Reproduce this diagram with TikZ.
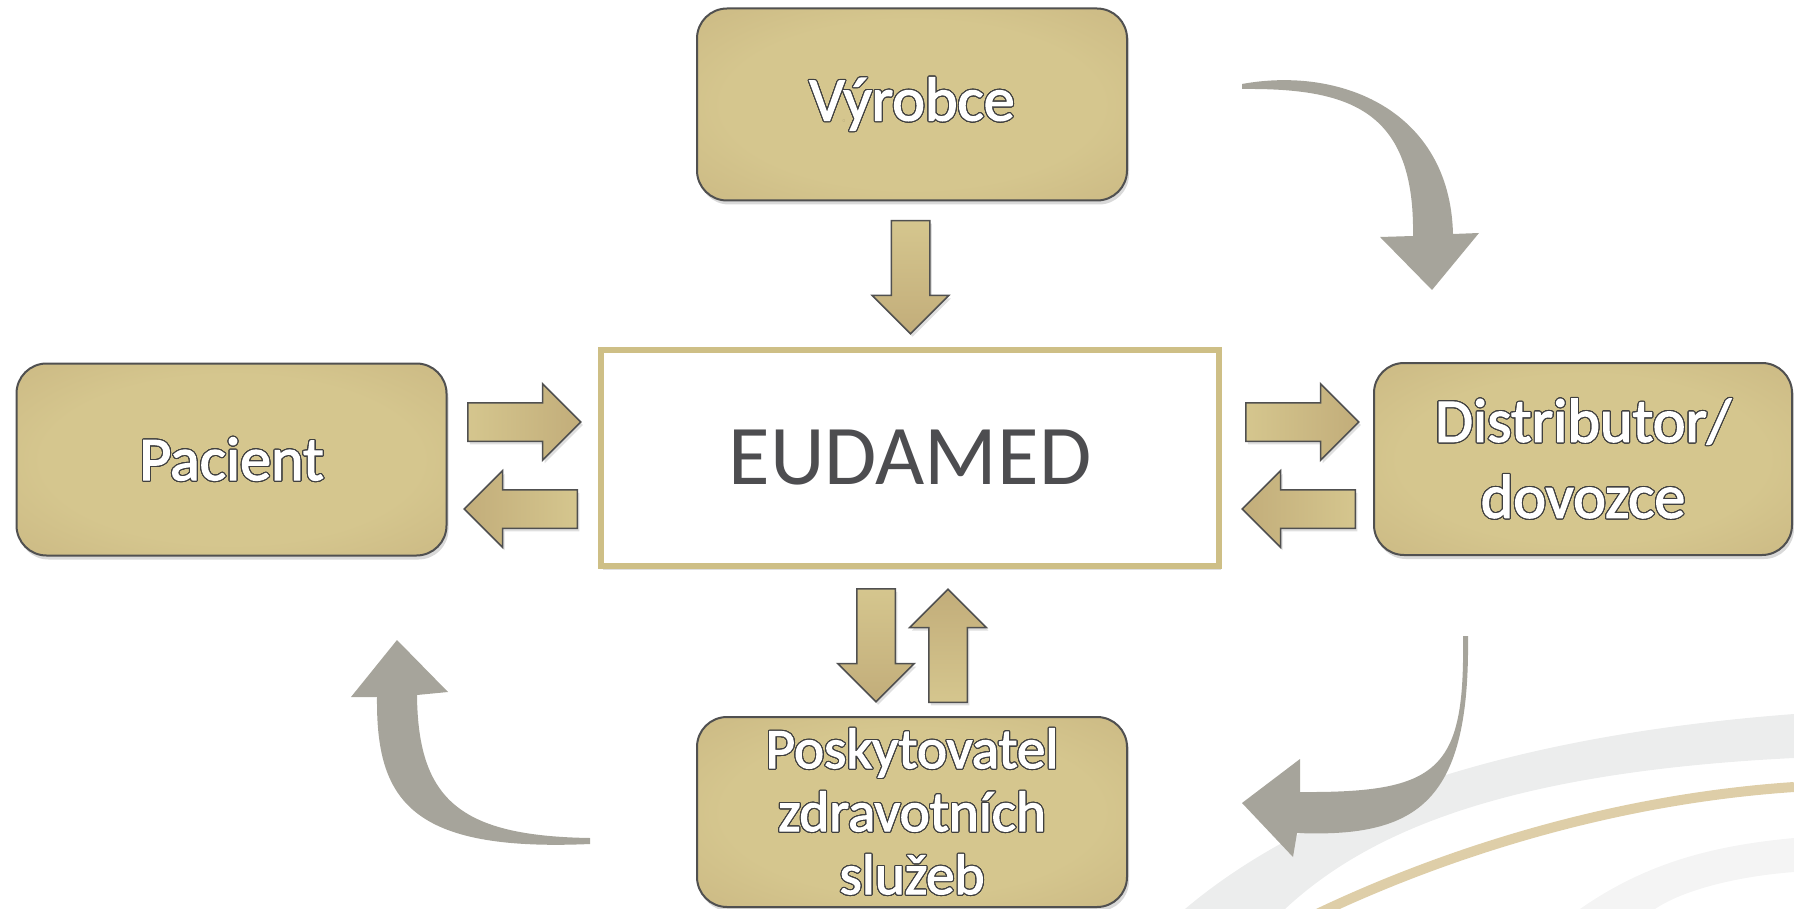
\documentclass[tikz,border=0pt]{standalone}
\usepackage{fontspec}
\setmainfont{Carlito}
\newfontfamily\boxfont{Carlito}[FakeBold=2]
\usepackage{contour}
\usetikzlibrary{shapes.arrows, shadows}
\contourlength{1.1pt}
\contournumber{24}
\definecolor{goldlight}{RGB}{213,198,142}
\definecolor{golddark}{RGB}{194,173,122}
\definecolor{goldline}{RGB}{206,191,134}
\definecolor{edgegray}{RGB}{80,80,80}
\definecolor{textgray}{RGB}{77,77,80}
\definecolor{turngray}{RGB}{166,164,155}
\definecolor{swoosh}{RGB}{236,237,237}
\definecolor{swooshtan}{RGB}{222,206,168}
\pgfdeclareradialshading{boxglow}{\pgfpoint{0bp}{0bp}}{color(0bp)=(goldlight); color(22bp)=(goldlight); color(50bp)=(golddark); color(100bp)=(golddark)}
\newcommand{\wtxt}[1]{\contour{black!75}{#1}}

\begin{document}
\begin{tikzpicture}[
        x=1pt,
        y=-1pt,
        every node/.style={text=white},
        actor/.style={rounded corners=30pt, draw=edgegray, line width=2pt,
            shading=boxglow, inner sep=2pt,
            minimum width=430pt, minimum height=192pt, align=center,
            drop shadow={opacity=0.3, shadow xshift=2pt, shadow yshift=-4pt},
            font=\boxfont\fontsize{62}{76}\selectfont},
        hub/.style={draw=goldline, line width=6pt, fill=white, text=textgray,
            minimum width=618pt, minimum height=216pt,
            drop shadow={opacity=0.25, shadow xshift=2pt, shadow yshift=-4pt},
            font=\fontsize{85}{100}\selectfont},
        blockarrow/.style={single arrow, draw=edgegray, line width=1.5pt,
            inner sep=18.5pt, minimum height=113pt, minimum width=75pt,
            single arrow head extend=19pt, anchor=tail,
            drop shadow={opacity=0.25, shadow xshift=2pt, shadow yshift=-3pt}},
        arrowE/.style={blockarrow, left color=goldlight, right color=golddark},
        arrowW/.style={blockarrow, shape border rotate=180,
            left color=golddark, right color=goldlight},
        arrowS/.style={blockarrow, shape border rotate=270,
            top color=goldlight, bottom color=golddark},
        arrowN/.style={blockarrow, shape border rotate=90,
            top color=golddark, bottom color=goldlight},
        turnarrow/.style={fill=turngray}
    ]
    \useasboundingbox (0,0) rectangle (1794,909);

    \begin{scope}
        \clip (0,0) rectangle (1794,909);
        \fill[swoosh] (1185,909) .. controls (1300,812) and (1490,737) .. (1794,714)
            -- (1794,758) .. controls (1510,772) and (1370,830) .. (1285,909) -- cycle;
        \fill[swoosh!60] (1580,909) .. controls (1650,860) and (1720,845) .. (1794,838)
            -- (1794,872) .. controls (1730,877) and (1680,892) .. (1655,909) -- cycle;
        \draw[swooshtan, line width=10pt] (1315,915) .. controls (1430,860) and (1600,800) .. (1794,787);
    \end{scope}

    \node[actor] (vyrobce) at (912,104.5) {\wtxt{Výrobce}};
    \node[hub] (eudamed) at (910,458) {EUDAMED};
    \node[actor] (pacient) at (231.5,459.5) {\wtxt{Pacient}};
    \node[actor, minimum width=418pt] (distributor) at (1583,459)
        {\wtxt{Distributor/}\\\wtxt{dovozce}};
    \node[actor, minimum height=190pt, font=\boxfont\fontsize{57}{63}\selectfont] (poskytovatel) at (912,812)
        {\wtxt{Poskytovatel}\\\wtxt{zdravotních}\\\wtxt{služeb}};

    \node[arrowS] (vyr2eud) at (910.5,220) {};
    \node[arrowE] (pac2eud) at (467,422) {};
    \node[arrowW] (eud2pac) at (578,509) {};
    \node[arrowE] (eud2dist) at (1245,422) {};
    \node[arrowW] (dist2eud) at (1356,509) {};
    \node[arrowS] (eud2posk) at (876,588) {};
    \node[arrowN] (posk2eud) at (948,703) {};

    \fill[turnarrow] (1242,84) .. controls (1340,66) and (1450,110) .. (1453,234)
        -- (1479,233) -- (1432,290) -- (1380,237) -- (1413,236)
        .. controls (1415,110) and (1350,88) .. (1242,89) -- cycle;
    \fill[turnarrow] (1463,636) .. controls (1465,770) and (1440,793) .. (1300,792)
        -- (1300,759) -- (1242,803) -- (1293,857) -- (1297,833)
        .. controls (1420,838) and (1470,800) .. (1468,636) -- cycle;
    \fill[turnarrow] (590,838) .. controls (460,836) and (418,800) .. (417,695)
        -- (448,692) -- (397,640) -- (351,697) -- (377,697)
        .. controls (376,800) and (410,852) .. (590,844) -- cycle;
\end{tikzpicture}
\end{document}
